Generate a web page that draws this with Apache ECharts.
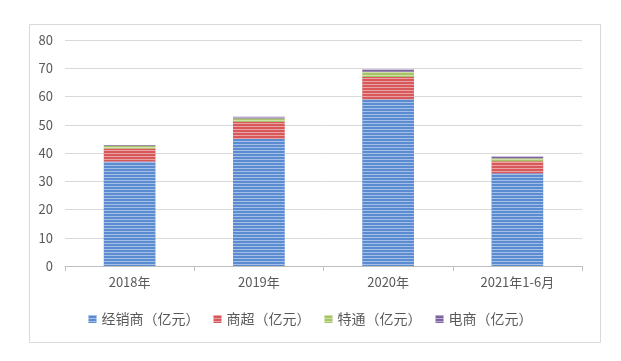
<!DOCTYPE html>
<html><head><meta charset="utf-8">
<script src="https://cdn.jsdelivr.net/npm/echarts@6/dist/echarts.min.js"></script>
<style>html,body{margin:0;padding:0;background:#fff;}#c{width:621px;height:361px;}</style>
</head><body><div id="c"></div>
<script>
const categories = ['2018年', '2019年', '2020年', '2021年1-6月'];
const seriesNames = ['经销商（亿元）', '商超（亿元）', '特通（亿元）', '电商（亿元）'];
const dealer = [37, 45, 59, 32.8];
const supermarket = [4.6, 6.0, 7.9, 4.3];
const special = [1.0, 1.2, 1.9, 1.0];
const ecommerce = [0.2, 0.6, 0.8, 0.7];
const yTicks = [0, 10, 20, 30, 40, 50, 60, 70, 80];

const colors = ['#5B8BD0', '#D9585A', '#A5C566', '#8064A2'];
const values = [dealer, supermarket, special, ecommerce];
const font = '"Noto Sans CJK SC", "Microsoft YaHei", sans-serif';

const chart = echarts.init(document.getElementById('c'), null, {renderer: 'canvas'});
chart.setOption({
  backgroundColor: '#fff',
  animation: false,
  graphic: [{
    type: 'rect', left: 27, top: 22, shape: {width: 571, height: 318},
    style: {fill: 'none', stroke: '#D9D9D9', lineWidth: 1}, silent: true
  }],
  grid: {left: 65, right: 39, top: 40, bottom: 95},
  legend: {
    bottom: 30, left: 'center', itemWidth: 8, itemHeight: 8, itemGap: 14, icon: 'rect',
    textStyle: {color: '#595959', fontSize: 14, fontFamily: font},
    data: seriesNames
  },
  xAxis: {
    type: 'category', data: categories,
    axisLine: {lineStyle: {color: '#BFBFBF'}},
    axisTick: {show: true, length: 5, lineStyle: {color: '#BFBFBF'}},
    axisLabel: {color: '#595959', fontSize: 13, fontFamily: font, margin: 10}
  },
  yAxis: {
    type: 'value', min: yTicks[0], max: yTicks[yTicks.length - 1], interval: 10,
    axisLine: {show: false}, axisTick: {show: false},
    splitLine: {lineStyle: {color: '#D9D9D9'}},
    axisLabel: {color: '#595959', fontSize: 13, fontFamily: font, margin: 12}
  },
  series: seriesNames.map((n, i) => ({
    name: n, type: 'bar', stack: 'total', barWidth: '40%',
    data: values[i],
    itemStyle: {
      color: colors[i],
      decal: {symbol: 'rect', symbolSize: 1, dashArrayX: [1, 0], dashArrayY: [1, 2], rotation: 0, color: 'rgba(255,255,255,0.45)'}
    }
  }))
});
</script></body></html>
